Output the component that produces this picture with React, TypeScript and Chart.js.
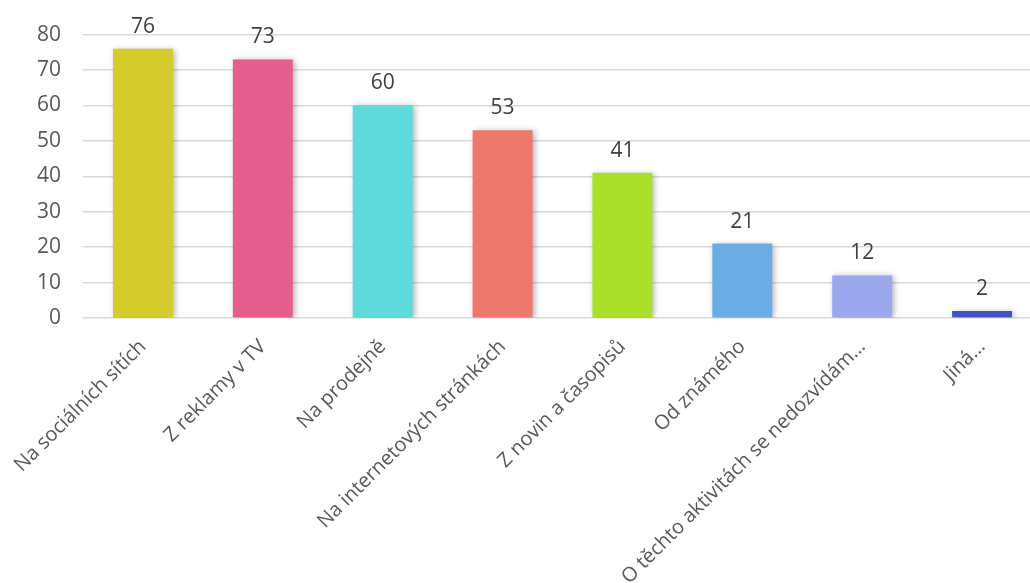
import React, { useEffect, useRef } from "react";
import { Chart, registerables } from "chart.js";

Chart.register(...registerables);

const categories = [
  "Na sociálních sítích",
  "Z reklamy v TV",
  "Na prodejně",
  "Na internetových stránkách",
  "Z novin a časopisů",
  "Od známého",
  "O těchto aktivitách se nedozvídám…",
  "Jiná…",
];
const values = [76, 73, 60, 53, 41, 21, 12, 2];
const barColors = [
  "#D5CB2A",
  "#E45F8D",
  "#5FDADA",
  "#EE786B",
  "#AAE02A",
  "#6AADE6",
  "#9BA8EE",
  "#3F52C0",
];
const yTicks = [0, 10, 20, 30, 40, 50, 60, 70, 80];

const FONT = "'Open Sans', sans-serif";

const shadowPlugin = {
  id: "barShadow",
  beforeDatasetsDraw(chart: any) {
    const ctx = chart.ctx;
    ctx.save();
    ctx.shadowColor = "rgba(0,0,0,0.30)";
    ctx.shadowBlur = 6;
    ctx.shadowOffsetX = 2;
    ctx.shadowOffsetY = 1;
  },
  afterDatasetsDraw(chart: any) {
    chart.ctx.restore();
  },
};

const labelPlugin = {
  id: "dataLabels",
  afterDatasetsDraw(chart: any) {
    const ctx = chart.ctx;
    const meta = chart.getDatasetMeta(0);
    ctx.save();
    ctx.font = `21px ${FONT}`;
    ctx.fillStyle = "#404040";
    ctx.textAlign = "center";
    ctx.textBaseline = "alphabetic";
    meta.data.forEach((el: any, i: number) => {
      ctx.fillText(String(values[i]), el.x, el.y - 16);
    });
    ctx.restore();
  },
};

export default function App() {
  const ref = useRef<HTMLCanvasElement | null>(null);
  useEffect(() => {
    document.body.style.margin = "0";
    document.documentElement.style.overflow = "hidden";
    const chart = new Chart(ref.current as HTMLCanvasElement, {
      type: "bar",
      data: {
        labels: categories,
        datasets: [
          {
            data: values,
            backgroundColor: barColors,
            barPercentage: 0.5,
            categoryPercentage: 1,
          },
        ],
      },
      options: {
        animation: false,
        responsive: false,
        maintainAspectRatio: false,
        layout: { padding: { top: 32, right: 2, left: 0, bottom: 0 } },
        plugins: { legend: { display: false }, tooltip: { enabled: false } },
        scales: {
          x: {
            grid: { display: false, drawTicks: false },
            border: { display: false },
            ticks: {
              minRotation: 45,
              maxRotation: 45,
              autoSkip: false,
              padding: 17,
              color: "#595959",
              font: { family: FONT, size: 20 },
            },
            afterFit(scale: any) {
              scale.height = 265;
              scale.paddingLeft = 0;
              scale.paddingRight = 0;
            },
          },
          y: {
            min: 0,
            max: 80,
            afterBuildTicks(scale: any) {
              scale.ticks = yTicks.map((v) => ({ value: v }));
            },
            grid: { color: "#D9D9D9", lineWidth: 1.5, drawTicks: false },
            border: { display: false },
            ticks: {
              padding: 22,
              color: "#595959",
              font: { family: FONT, size: 21 },
            },
            afterFit(scale: any) {
              scale.width = 83;
            },
          },
        },
      },
      plugins: [shadowPlugin, labelPlugin],
    });
    return () => chart.destroy();
  }, []);
  return (
    <div style={{ position: "absolute", left: 0, top: 0, width: 1030, height: 583, overflow: "hidden", background: "#fff" }}>
      <canvas ref={ref} width={1044} height={583} style={{ width: 1044, height: 583, display: "block" }} />
    </div>
  );
}
